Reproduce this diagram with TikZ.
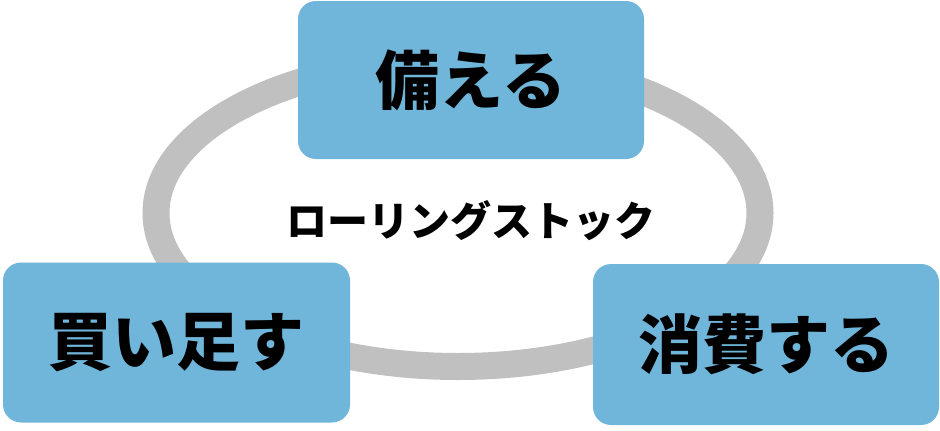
\documentclass[tikz,border=0pt]{standalone}
\usepackage{fontspec}
\newfontfamily\cjk{Noto Sans CJK JP}
\usepackage{tikz}
\definecolor{boxblue}{HTML}{70B6DA}
\definecolor{ringgray}{HTML}{C0C0C0}
\tikzset{
  stage/.style={fill=boxblue, rounded corners=18pt, inner sep=0pt,
    font=\cjk\bfseries\fontsize{64}{64}\selectfont},
  loop/.style={color=ringgray, line width=27pt}
}

\begin{document}
\begin{tikzpicture}[x=1pt, y=-1pt]
\useasboundingbox (0,0) rectangle (940,431);
\draw[loop] (458,213) ellipse (302 and 153.5);

\node[font=\cjk\bfseries\fontsize{41}{41}\selectfont] (rolling) at (471,221) {ローリングストック};
\node[stage, minimum width=346pt, minimum height=158pt] (prepare) at (471,80) {備える};
\node[stage, minimum width=347pt, minimum height=160pt] (restock) at (176.5,342.5) {買い足す};
\node[stage, minimum width=346pt, minimum height=161pt] (consume) at (766,344.5) {消費する};
\end{tikzpicture}
\end{document}
